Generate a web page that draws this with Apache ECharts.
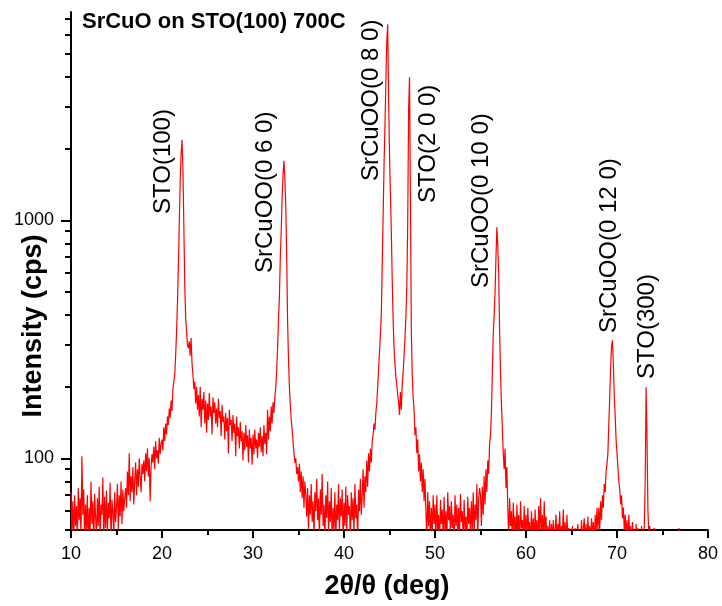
<!DOCTYPE html>
<html>
<head>
<meta charset="utf-8">
<script src="https://cdn.jsdelivr.net/npm/echarts@6/dist/echarts.min.js"></script>
<style>
  html, body { margin: 0; padding: 0; background: #fff; }
  #chart { width: 722px; height: 606px; }
</style>
</head>
<body>
<div id="chart"></div>
<script>
// XRD scan, intensity in cps, 0.1 deg steps, one array per 10 deg of 2theta
const counts10 = [
  72, 48, 66, 44, 70, 52, 63, 46, 75, 55,
  68, 47, 102, 58, 74, 45, 64, 50, 70, 43,
  62, 48, 80, 53, 66, 42, 71, 57, 47, 68,
  52, 76, 45, 64, 58, 83, 46, 69, 51, 73,
  48, 65, 56, 79, 44, 67, 60, 47, 72, 54,
  62, 78, 50, 70, 57, 80, 53, 74, 60, 68,
  75, 62, 88, 70, 105, 66, 84, 72, 92, 64,
  80, 96, 70, 90, 76, 100, 83, 72, 95, 86,
  98, 80, 105, 88, 110, 84, 100, 66, 92, 104,
  96, 112, 90, 118, 100, 108, 95, 122, 104, 115
];
const counts20 = [
  120, 108, 135, 118, 140, 126, 150, 138, 162, 148,
  175, 158, 195, 210, 225, 270, 340, 450, 640, 980,
  1450, 1900, 2180, 1650, 950, 540, 390, 340, 300, 290,
  310, 270, 320, 250, 225, 195, 210, 170, 200, 160,
  185, 150, 200, 135, 178, 160, 190, 140, 175, 128,
  170, 145, 188, 150, 165, 126, 180, 155, 172, 140,
  162, 135, 178, 148, 158, 124, 168, 142, 150, 120,
  155, 130, 148, 105, 160, 138, 145, 118, 152, 128,
  140, 102, 150, 124, 135, 110, 142, 118, 130, 98,
  128, 108, 138, 112, 125, 96, 132, 110, 122, 94
];
const counts30 = [
  126, 104, 132, 110, 120, 100, 128, 112, 135, 106,
  124, 102, 138, 115, 128, 104, 160, 120, 150, 130,
  165, 140, 172, 155, 180, 200, 230, 290, 380, 470,
  700, 900, 1250, 1550, 1780, 1500, 1150, 720, 380, 260,
  200, 168, 145, 132, 118, 105, 96, 100, 86, 92,
  80, 95, 72, 88, 68, 84, 62, 80, 70, 57,
  75, 50, 70, 58, 78, 54, 66, 47, 72, 60,
  82, 55, 68, 46, 74, 58, 86, 52, 64, 45,
  70, 56, 80, 48, 66, 54, 75, 44, 62, 50,
  72, 46, 64, 55, 78, 48, 68, 57, 74, 45
];
const counts40 = [
  65, 52, 76, 47, 70, 58, 63, 44, 72, 55,
  68, 48, 78, 56, 64, 45, 74, 60, 82, 58,
  70, 90, 62, 84, 72, 98, 76, 105, 88, 110,
  96, 118, 125, 140, 132, 155, 170, 200, 235, 280,
  330, 400, 650, 1050, 1700, 2500, 3800, 5600, 6660, 3300,
  1900, 1300, 900, 560, 380, 290, 250, 220, 205, 185,
  172, 152, 190, 160, 205, 230, 270, 320, 390, 520,
  950, 2900, 3990, 1250, 340, 225, 180, 160, 125, 135,
  105, 120, 88, 104, 80, 96, 72, 90, 66, 82,
  60, 46, 72, 52, 66, 44, 62, 48, 70, 53
];
const counts50 = [
  64, 45, 70, 50, 58, 42, 67, 53, 61, 46,
  69, 49, 60, 44, 72, 55, 63, 47, 66, 51,
  58, 43, 70, 52, 64, 46, 62, 48, 71, 54,
  60, 45, 67, 50, 57, 44, 69, 53, 62, 47,
  66, 50, 72, 48, 64, 55, 78, 46, 68, 75,
  70, 52, 76, 58, 84, 64, 90, 72, 98, 86,
  115, 125, 155, 230, 330, 400, 500, 700, 935, 780,
  600, 340, 230, 170, 135, 105, 90, 110, 75, 92,
  62, 46, 68, 52, 60, 44, 65, 50, 57, 42,
  64, 48, 58, 43, 66, 51, 55, 45, 63, 49
];
const counts60 = [
  58, 44, 62, 50, 54, 42, 60, 47, 56, 43,
  61, 48, 55, 42, 63, 50, 68, 46, 58, 44,
  66, 49, 57, 43, 52, 45, 55, 41, 53, 46,
  55, 42, 51, 58, 44, 53, 47, 60, 43, 52,
  48, 61, 45, 54, 42, 58, 46, 51, 41, 49,
  44, 52, 40, 47, 51, 42, 48, 53, 43, 50,
  45, 55, 42, 51, 56, 44, 53, 41, 57, 46,
  52, 43, 56, 47, 54, 42, 58, 48, 62, 50,
  62, 50, 66, 55, 70, 62, 78, 72, 88, 95,
  105, 140, 180, 240, 295, 313, 250, 185, 150, 120
];
const counts70 = [
  105, 92, 80, 74, 64, 70, 56, 62, 50, 58,
  47, 55, 44, 58, 46, 52, 42, 54, 45, 50,
  43, 53, 41, 51, 44, 49, 42, 52, 45, 47,
  52, 80, 199, 120, 60, 48, 52, 44, 50, 45,
  48, 51, 44, 46, 42, 43, 41, 44, 42, 43,
  42, 41, 43, 42, 44, 41, 42, 43, 41, 42,
  43, 42, 41, 44, 42, 43, 42, 41, 51, 42,
  41, 43, 42, 41, 42, 43, 41, 42, 43, 42,
  42, 41, 43, 42, 41, 42, 43, 41, 42, 43,
  41, 42, 43, 42, 41, 42, 43, 41, 42, 42
];

const xTicks = [10, 20, 30, 40, 50, 60, 70, 80];
const yMajorTicks = [100, 1000];
const yMinorTicks = [50, 60, 70, 80, 90, 200, 300, 400, 500, 600, 700, 800, 900,
  2000, 3000, 4000, 5000, 6000, 7000];
const peakNames = ["STO(100)", "SrCuOO(0 6 0)", "SrCuOO(0 8 0)", "STO(2 0 0)",
  "SrCuOO(0 10 0)", "SrCuOO(0 12 0)", "STO(300)"];
const chartTitle = "SrCuO on STO(100) 700C";

const FONT = '"Liberation Sans", Arial, Helvetica, sans-serif';

// join the pieces into [2theta, cps] pairs
const scans = [[10, counts10], [20, counts20], [30, counts30], [40, counts40],
  [50, counts50], [60, counts60], [70, counts70]];
const points = [];
scans.forEach(([start, counts]) => {
  counts.forEach((c, i) => points.push([+(start + i * 0.1).toFixed(1), c]));
});

// where each peak label starts (text runs upward from here)
const labelAnchors = [[163, 214], [265, 273], [371, 181], [428, 203],
  [481, 288], [609, 333], [647, 379]];

const chart = echarts.init(document.getElementById("chart"));

const black = { color: "#000", width: 2 };

chart.setOption({
  animation: false,
  backgroundColor: "#fff",
  grid: { left: 71, right: 14, top: 12, bottom: 76 },
  xAxis: {
    type: "value",
    min: xTicks[0],
    max: xTicks[xTicks.length - 1],
    interval: 10,
    axisLine: { onZero: false, lineStyle: black },
    axisTick: { length: 8, lineStyle: black },
    minorTick: { show: true, splitNumber: 2, length: 5, lineStyle: black },
    axisLabel: { fontSize: 18, color: "#000", fontFamily: FONT, margin: 15 },
    splitLine: { show: false },
  },
  yAxis: [
    {
      type: "log",
      min: 50,
      max: 7500,
      axisLine: { show: true, onZero: false, lineStyle: black },
      axisTick: { customValues: yMajorTicks, length: 10, lineStyle: black },
      axisLabel: {
        customValues: yMajorTicks,
        formatter: (v) => String(Math.round(v)),
        fontSize: 18, color: "#000", fontFamily: FONT, margin: 17,
      },
      splitLine: { show: false },
    },
    {
      // minor ticks only
      type: "log",
      min: 50,
      max: 7500,
      position: "left",
      axisLine: { show: false },
      axisTick: { customValues: yMinorTicks, length: 6, lineStyle: black },
      axisLabel: { show: false },
      splitLine: { show: false },
    },
  ],
  series: [
    {
      type: "line",
      data: points,
      yAxisIndex: 0,
      showSymbol: false,
      symbol: "none",
      clip: true,
      lineStyle: { color: "#ff0000", width: 1.2 },
      itemStyle: { color: "#ff0000" },
    },
  ],
  graphic: [
    {
      type: "text", x: 82, y: 11,
      style: { text: chartTitle, font: "bold 22px " + FONT, fill: "#000", align: "left", verticalAlign: "top" },
    },
    {
      type: "text", x: 34, y: 326, rotation: Math.PI / 2,
      style: { text: "Intensity (cps)", font: "bold 27px " + FONT, fill: "#000", align: "center", verticalAlign: "middle" },
    },
    {
      type: "text", x: 387, y: 587,
      style: { text: "2θ/θ (deg)", font: "bold 27px " + FONT, fill: "#000", align: "center", verticalAlign: "middle" },
    },
  ].concat(peakNames.map((name, i) => ({
    type: "text",
    x: labelAnchors[i][0],
    y: labelAnchors[i][1],
    rotation: Math.PI / 2,
    style: { text: name, font: "24px " + FONT, fill: "#000", align: "left", verticalAlign: "middle" },
  }))),
});
</script>
</body>
</html>
